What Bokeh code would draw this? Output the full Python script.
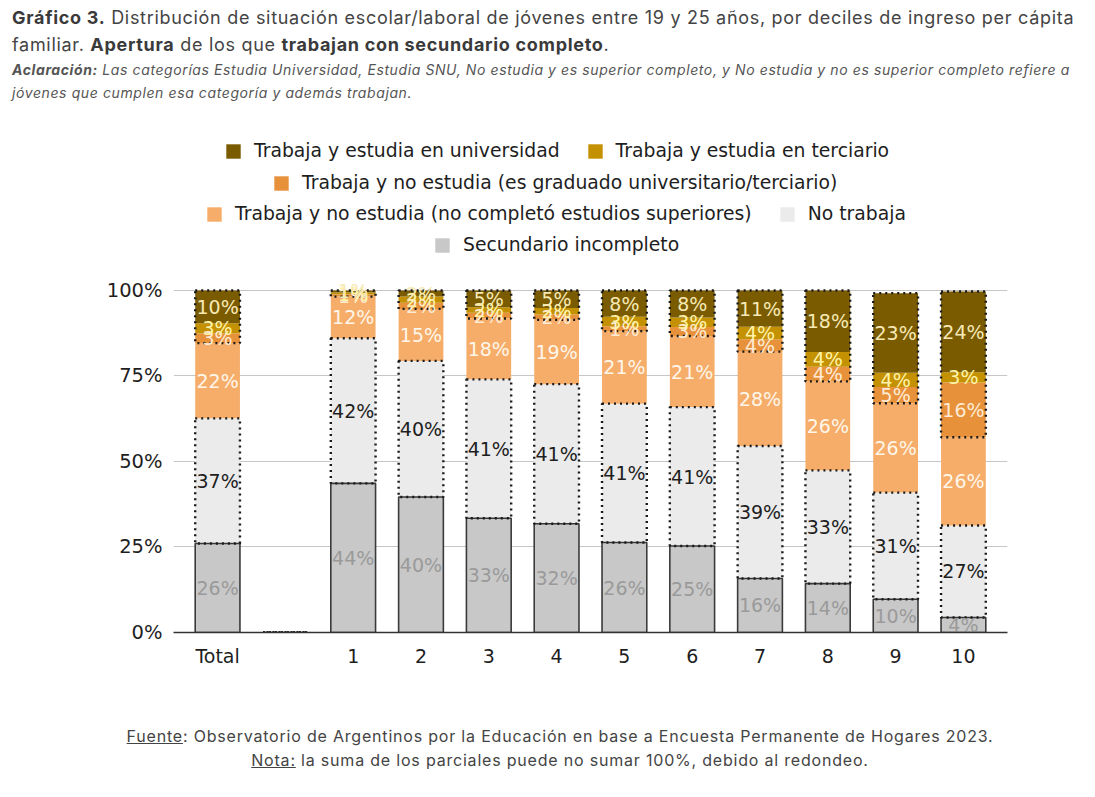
import numpy as np
from bokeh.plotting import figure
from bokeh.models import (ColumnDataSource, Legend, LegendItem, Div, FixedTicker, Range1d)
from bokeh.layouts import column
from bokeh.embed import file_html
from bokeh.resources import INLINE
from bokeh.core.properties import value

# ---------------- data ----------------
categories = ["Total", "", "1", "2", "3", "4", "5", "6", "7", "8", "9", "10"]

secundario_incompleto = [26.0, 0, 43.6, 39.6, 33.4, 31.8, 26.3, 25.3, 15.8, 14.3, 9.7, 4.4]
no_trabaja = [36.6, 0, 42.4, 39.8, 40.6, 40.8, 40.6, 40.6, 38.7, 33.1, 31.2, 26.9]
no_estudia_sin_superior = [22.0, 0, 12.2, 15.2, 17.8, 18.8, 21.2, 20.8, 27.6, 26.0, 26.1, 25.8]
no_estudia_graduado = [2.8, 0, 0.6, 1.8, 1.7, 1.6, 1.4, 2.6, 3.6, 4.3, 4.8, 16.0]
estudia_terciario = [3.0, 0, 0.6, 1.8, 1.6, 1.9, 2.8, 2.8, 3.7, 4.3, 4.1, 3.0]
estudia_universidad = [9.6, 0, 0.6, 1.8, 4.9, 5.1, 7.7, 7.9, 10.6, 18.0, 23.3, 23.6]

series_names = [
    "Secundario incompleto",
    "No trabaja",
    "Trabaja y no estudia (no completó estudios superiores)",
    "Trabaja y no estudia (es graduado universitario/terciario)",
    "Trabaja y estudia en terciario",
    "Trabaja y estudia en universidad",
]
series_values = [secundario_incompleto, no_trabaja, no_estudia_sin_superior,
                 no_estudia_graduado, estudia_terciario, estudia_universidad]
series_colors = ["#c8c8c8", "#ebebeb", "#f5ad69", "#e8913b", "#c39102", "#7a5b00"]
label_colors = ["#9a9a9a", "#1e1e1e", "#fff6ea", "#fdebd5", "#fff3a8", "#f7e9b5"]

y_tick_values = [0, 25, 50, 75, 100]
y_tick_labels = ["0%", "25%", "50%", "75%", "100%"]

# ---------------- figure ----------------
FONT = "DejaVu Sans"
xs = np.arange(len(categories))
vals = np.array(series_values, dtype=float)
tops = np.cumsum(vals, axis=0)
bottoms = tops - vals

p = figure(
    output_backend="svg", toolbar_location=None,
    frame_width=834, frame_height=496,
    min_border_left=165, min_border_right=76, min_border_top=26, min_border_bottom=50,
    x_range=Range1d(-0.65, len(categories) - 0.35), y_range=Range1d(0, 145.0),
    background_fill_color="white", border_fill_color="white",
)
p.margin = (0, 0, 0, 0)
p.outline_line_color = None
p.xgrid.grid_line_color = None
p.ygrid.grid_line_color = "#c6c6c6"
p.ygrid.grid_line_width = 1.2
p.ygrid.ticker = FixedTicker(ticks=y_tick_values)

p.yaxis.ticker = FixedTicker(ticks=y_tick_values)
p.yaxis.major_label_overrides = {v: l for v, l in zip(y_tick_values, y_tick_labels)}
p.yaxis.axis_line_color = None
p.yaxis.major_tick_line_color = None
p.yaxis.minor_tick_line_color = None
p.yaxis.major_label_text_font = FONT
p.yaxis.major_label_text_font_size = "19.5px"
p.yaxis.major_label_text_color = "#1e1e1e"
p.yaxis.major_label_standoff = 5

p.xaxis.ticker = FixedTicker(ticks=list(xs))
p.xaxis.major_label_overrides = {int(i): c for i, c in zip(xs, categories)}
p.xaxis.axis_line_color = "#333333"
p.xaxis.axis_line_width = 1.5
p.xaxis.major_tick_line_color = None
p.xaxis.minor_tick_line_color = None
p.xaxis.major_label_text_font = FONT
p.xaxis.major_label_text_font_size = "19px"
p.xaxis.major_label_text_color = "#1e1e1e"
p.xaxis.major_label_standoff = 6

BW = 0.66
fill_renderers = []
for i in range(len(series_names)):
    src = ColumnDataSource(dict(x=xs, bottom=bottoms[i], top=tops[i]))
    r = p.vbar(x="x", bottom="bottom", top="top", width=BW, source=src,
               fill_color=series_colors[i], line_color=None)
    fill_renderers.append(r)

# outlines
src_g = ColumnDataSource(dict(x=xs, bottom=bottoms[0], top=tops[0]))
p.vbar(x="x", bottom="bottom", top="top", width=BW, source=src_g,
       fill_color=None, line_color="#3a3a3a", line_width=1.6)
src_nt = ColumnDataSource(dict(x=xs, bottom=bottoms[1], top=tops[1]))
p.vbar(x="x", bottom="bottom", top="top", width=BW, source=src_nt,
       fill_color=None, line_color="#1a1a1a", line_width=2.4, line_dash="2 4")
src_top = ColumnDataSource(dict(x=xs, bottom=bottoms[3], top=tops[5]))
p.vbar(x="x", bottom="bottom", top="top", width=BW, source=src_top,
       fill_color=None, line_color="#1a1a1a", line_width=2.4, line_dash="2 4")

# value labels
for i in range(len(series_names)):
    mask = vals[i] > 0
    src = ColumnDataSource(dict(
        x=xs[mask],
        y=(bottoms[i] + vals[i] / 2)[mask],
        t=[f"{int(round(v))}%" for v in vals[i][mask]],
    ))
    p.text(x="x", y="y", text="t", source=src, text_align="center",
           text_baseline="middle", text_font=value(FONT), text_font_size="19px",
           text_color=label_colors[i])

# legend rows (screen offsets from the frame's bottom-left corner)
legend_rows = [
    ([5, 4], (51, 471)),
    ([3], (99, 439)),
    ([2, 1], (32, 408)),
    ([0], (260, 377)),
]
for idxs, loc in legend_rows:
    items = [LegendItem(label=series_names[k], renderers=[fill_renderers[k]]) for k in idxs]
    leg = Legend(items=items, location=loc, orientation="horizontal",
                 padding=0, margin=0, spacing=26, label_standoff=12,
                 glyph_width=18, glyph_height=18, label_height=20,
                 label_text_font=FONT, label_text_font_size="18.8px",
                 label_text_color="#1e1e1e",
                 background_fill_alpha=0, border_line_color=None)
    p.add_layout(leg, "center")

# ---------------- texts ----------------
title_html = """
<div style="font-family:'Inter'; color:#444444; padding-left:4px; margin-top:-4px;">
<div style="font-size:18px; letter-spacing:0.7px; line-height:27px; white-space:nowrap;"><b style="color:#3a3a3a">Gráfico 3.</b> Distribución de situación escolar/laboral de jóvenes entre 19 y 25 años, por deciles de ingreso per cápita</div>
<div style="font-size:18px; letter-spacing:0.7px; line-height:27px; white-space:nowrap;">familiar. <b style="color:#3a3a3a">Apertura</b> de los que <b style="color:#3a3a3a">trabajan con secundario completo</b>.</div>
<div style="font-size:14px; letter-spacing:0.6px; line-height:23px; font-style:italic; color:#555555; white-space:nowrap;"><b>Aclaración:</b> Las categorías Estudia Universidad, Estudia SNU, No estudia y es superior completo, y No estudia y no es superior completo refiere a</div>
<div style="font-size:14px; letter-spacing:0.6px; line-height:23px; font-style:italic; color:#555555; white-space:nowrap;">jóvenes que cumplen esa categoría y además trabajan.</div>
</div>
"""
title_div = Div(text=title_html, width=1075, height=102, margin=(0, 0, 0, 0))

footer_html = """
<div style="font-family:'Inter'; color:#444444; box-sizing:content-box; width:1050px; padding-left:27px; text-align:center; padding-top:42px;">
<div style="font-size:16px; letter-spacing:0.8px; line-height:24px; white-space:nowrap;"><u>Fuente</u>: Observatorio de Argentinos por la Educación en base a Encuesta Permanente de Hogares 2023.</div>
<div style="font-size:16px; letter-spacing:0.8px; line-height:24px; white-space:nowrap;"><u>Nota:</u> la suma de los parciales puede no sumar 100%, debido al redondeo.</div>
</div>
"""
footer_div = Div(text=footer_html, width=1075, height=100, margin=(0, 0, 0, 0))

layout = column(title_div, p, footer_div, margin=(8, 0, 0, 8))
open("out.html", "w").write(file_html(layout, INLINE))
